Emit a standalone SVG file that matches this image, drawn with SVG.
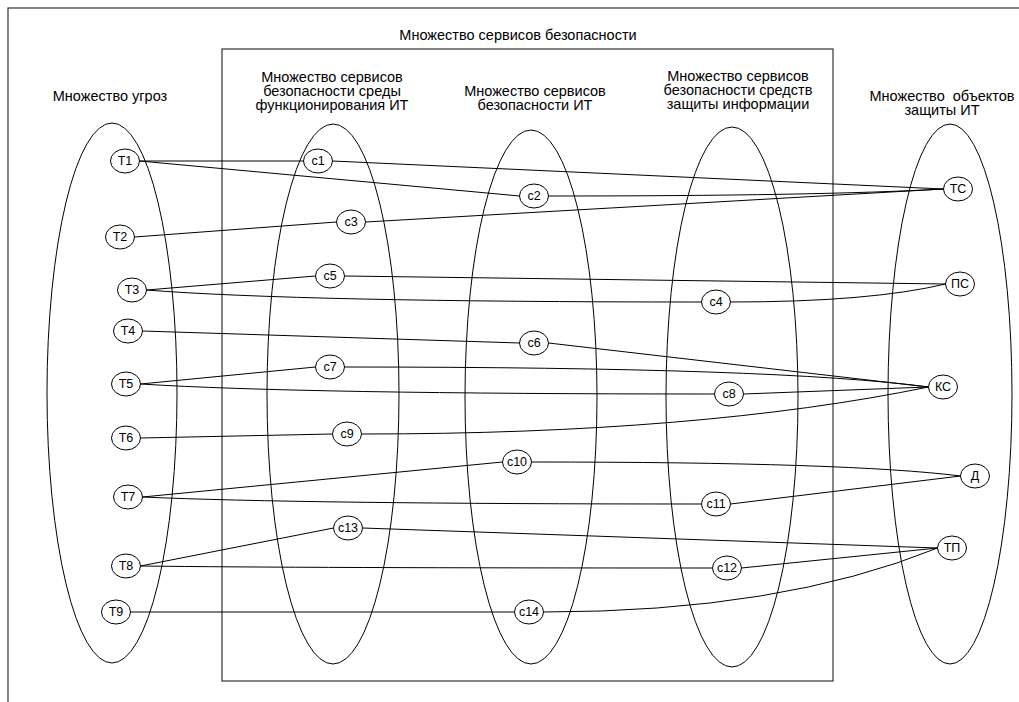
<svg xmlns="http://www.w3.org/2000/svg" width="1019" height="702" viewBox="0 0 1019 702">
<style>
.frame{fill:none;stroke:#333;stroke-width:1.2}
.set{fill:none;stroke:#000;stroke-width:1}
.nd{fill:#fff;stroke:#000;stroke-width:1}
.hd{font-family:"Liberation Sans",Arial,sans-serif;font-size:14.5px;fill:#000;text-anchor:middle}
.lb{font-family:"Liberation Sans",Arial,sans-serif;font-size:12.5px;fill:#000;text-anchor:middle;dominant-baseline:central}
#edges path{fill:none;stroke:#000;stroke-width:1}
</style>
<rect width="1019" height="702" fill="#fff"/>
<g id="frames">
<rect class="frame" x="8" y="8" width="1100" height="1100"/>
<rect class="frame" x="222" y="49" width="611" height="632"/>
</g>
<g id="sets">
<ellipse class="set" cx="112" cy="393" rx="65" ry="270"/>
<ellipse class="set" cx="333" cy="394" rx="66" ry="270"/>
<ellipse class="set" cx="531" cy="397" rx="66" ry="267"/>
<ellipse class="set" cx="732" cy="397" rx="66" ry="270"/>
<ellipse class="set" cx="950" cy="394" rx="62" ry="270"/>
</g>
<g id="headers">
<text class="hd" x="518" y="40">Множество сервисов безопасности</text>
<text class="hd" x="110" y="101">Множество угроз</text>
<text class="hd" x="332" y="82">Множество сервисов</text>
<text class="hd" x="332" y="96">безопасности среды</text>
<text class="hd" x="332" y="110">функционирования ИТ</text>
<text class="hd" x="535" y="96">Множество сервисов</text>
<text class="hd" x="535" y="110">безопасности ИТ</text>
<text class="hd" x="738" y="81">Множество сервисов</text>
<text class="hd" x="738" y="95">безопасности средств</text>
<text class="hd" x="738" y="109">защиты информации</text>
<text class="hd" x="942" y="101" xml:space="preserve">Множество  объектов</text>
<text class="hd" x="942" y="115">защиты ИТ</text>
</g>
<g id="edges">
<path d="M139.5,161 L303.5,161"/>
<path d="M332.5,161 L943.5,189"/>
<path d="M139.5,161 L519.5,196"/>
<path d="M548.5,196 Q820,196 943.5,189"/>
<path d="M134.5,237 L336.5,222"/>
<path d="M365.5,222 L943.5,189"/>
<path d="M146.5,290 L315.5,276"/>
<path d="M344.5,276 L945.5,284"/>
<path d="M146.5,290 Q300,302 701.5,302"/>
<path d="M730.5,302 Q870,302 945.5,284"/>
<path d="M142.5,331 L519.5,343"/>
<path d="M548.5,343 L928.5,387"/>
<path d="M140.5,384 L315.5,367"/>
<path d="M344.5,367 Q780,367 928.5,387"/>
<path d="M140.5,384 Q300,394 714.5,394"/>
<path d="M743.5,394 L928.5,387"/>
<path d="M140.5,438 L332.5,434"/>
<path d="M361.5,434 Q700,434 928.5,387"/>
<path d="M142.5,497 L502.5,462"/>
<path d="M531.5,462 Q850,462 960.5,476"/>
<path d="M142.5,497 Q300,504 701.5,504"/>
<path d="M730.5,504 L960.5,476"/>
<path d="M140.5,566 L333.5,528"/>
<path d="M362.5,528 L937.5,548"/>
<path d="M140.5,566 Q300,568 712.5,568"/>
<path d="M741.5,568 L937.5,548"/>
<path d="M130.5,612 L514.5,612"/>
<path d="M543.5,612 Q780,612 937.5,548"/>
</g>
<g id="T1"><ellipse class="nd" cx="125" cy="161" rx="14.5" ry="12"/><text class="lb" x="125" y="161">T1</text></g>
<g id="T2"><ellipse class="nd" cx="120" cy="237" rx="14.5" ry="12"/><text class="lb" x="120" y="237">T2</text></g>
<g id="T3"><ellipse class="nd" cx="132" cy="290" rx="14.5" ry="12"/><text class="lb" x="132" y="290">T3</text></g>
<g id="T4"><ellipse class="nd" cx="128" cy="331" rx="14.5" ry="12"/><text class="lb" x="128" y="331">T4</text></g>
<g id="T5"><ellipse class="nd" cx="126" cy="384" rx="14.5" ry="12"/><text class="lb" x="126" y="384">T5</text></g>
<g id="T6"><ellipse class="nd" cx="126" cy="438" rx="14.5" ry="12"/><text class="lb" x="126" y="438">T6</text></g>
<g id="T7"><ellipse class="nd" cx="128" cy="497" rx="14.5" ry="12"/><text class="lb" x="128" y="497">T7</text></g>
<g id="T8"><ellipse class="nd" cx="126" cy="566" rx="14.5" ry="12"/><text class="lb" x="126" y="566">T8</text></g>
<g id="T9"><ellipse class="nd" cx="116" cy="612" rx="14.5" ry="12"/><text class="lb" x="116" y="612">T9</text></g>
<g id="c1"><ellipse class="nd" cx="318" cy="161" rx="14.5" ry="12"/><text class="lb" x="318" y="161">c1</text></g>
<g id="c2"><ellipse class="nd" cx="534" cy="196" rx="14.5" ry="12"/><text class="lb" x="534" y="196">c2</text></g>
<g id="c3"><ellipse class="nd" cx="351" cy="222" rx="14.5" ry="12"/><text class="lb" x="351" y="222">c3</text></g>
<g id="c4"><ellipse class="nd" cx="716" cy="302" rx="14.5" ry="12"/><text class="lb" x="716" y="302">c4</text></g>
<g id="c5"><ellipse class="nd" cx="330" cy="276" rx="14.5" ry="12"/><text class="lb" x="330" y="276">c5</text></g>
<g id="c6"><ellipse class="nd" cx="534" cy="343" rx="14.5" ry="12"/><text class="lb" x="534" y="343">c6</text></g>
<g id="c7"><ellipse class="nd" cx="330" cy="367" rx="14.5" ry="12"/><text class="lb" x="330" y="367">c7</text></g>
<g id="c8"><ellipse class="nd" cx="729" cy="394" rx="14.5" ry="12"/><text class="lb" x="729" y="394">c8</text></g>
<g id="c9"><ellipse class="nd" cx="347" cy="434" rx="14.5" ry="12"/><text class="lb" x="347" y="434">c9</text></g>
<g id="c10"><ellipse class="nd" cx="517" cy="462" rx="14.5" ry="12"/><text class="lb" x="517" y="462">c10</text></g>
<g id="c11"><ellipse class="nd" cx="716" cy="504" rx="14.5" ry="12"/><text class="lb" x="716" y="504">c11</text></g>
<g id="c12"><ellipse class="nd" cx="727" cy="568" rx="14.5" ry="12"/><text class="lb" x="727" y="568">c12</text></g>
<g id="c13"><ellipse class="nd" cx="348" cy="528" rx="14.5" ry="12"/><text class="lb" x="348" y="528">c13</text></g>
<g id="c14"><ellipse class="nd" cx="529" cy="612" rx="14.5" ry="12"/><text class="lb" x="529" y="612">c14</text></g>
<g id="TS"><ellipse class="nd" cx="958" cy="189" rx="14.5" ry="12"/><text class="lb" x="958" y="189">ТС</text></g>
<g id="PS"><ellipse class="nd" cx="960" cy="284" rx="14.5" ry="12"/><text class="lb" x="960" y="284">ПС</text></g>
<g id="KS"><ellipse class="nd" cx="943" cy="387" rx="14.5" ry="12"/><text class="lb" x="943" y="387">КС</text></g>
<g id="D"><ellipse class="nd" cx="975" cy="476" rx="14.5" ry="12"/><text class="lb" x="975" y="476">Д</text></g>
<g id="TP"><ellipse class="nd" cx="952" cy="548" rx="14.5" ry="12"/><text class="lb" x="952" y="548">ТП</text></g>
</svg>
